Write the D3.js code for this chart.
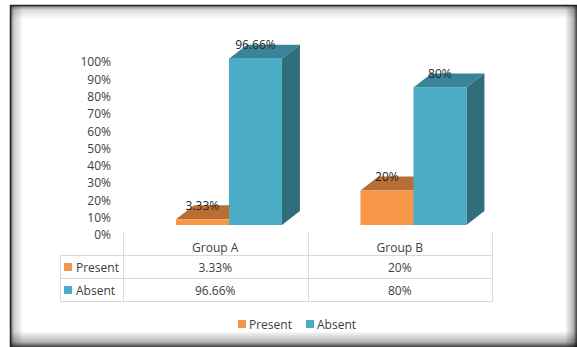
<!DOCTYPE html>
<html>
<head>
<meta charset="utf-8">
<script src="https://cdn.jsdelivr.net/npm/d3@7/dist/d3.min.js"></script>
<style>
  html, body { margin: 0; padding: 0; background: #fff; }
  svg { display: block; font-family: "Open Sans", "Noto Sans", sans-serif; }
</style>
</head>
<body>
<svg id="chart" width="577" height="347"></svg>
<script>
// Chart data
const categories = ["Group A", "Group B"];
const seriesNames = ["Present", "Absent"];
const presentValues = [3.33, 20];
const absentValues = [96.66, 80];
const valueLabels = [["3.33%", "20%"], ["96.66%", "80%"]];
const yTicks = [0, 10, 20, 30, 40, 50, 60, 70, 80, 90, 100];

const seriesValues = [presentValues, absentValues];
const colors = {
  Present: { front: "#F79646", top: "#B96F34", side: "#A8612B" },
  Absent:  { front: "#4BACC6", top: "#3A8499", side: "#306E7E" }
};
const textColor = "#404040";
const gridColor = "#D9D9D9";

const svg = d3.select("#chart");
const W = 577, H = 347;

// Frame with soft inner shadow
const defs = svg.append("defs");
function grad(id, x1, y1, x2, y2, stops) {
  const g = defs.append("linearGradient").attr("id", id)
    .attr("x1", x1).attr("y1", y1).attr("x2", x2).attr("y2", y2);
  stops.forEach(s => g.append("stop").attr("offset", s[0]).attr("stop-color", s[1]).attr("stop-opacity", s[2]));
}
grad("gTop", 0, 0, 0, 1, [[0, "#000", 0.55], [0.35, "#000", 0.15], [1, "#000", 0]]);
grad("gLeft", 0, 0, 1, 0, [[0, "#000", 0.65], [0.3, "#000", 0.2], [1, "#000", 0]]);
grad("gRight", 1, 0, 0, 0, [[0, "#000", 0.75], [0.3, "#000", 0.3], [1, "#000", 0]]);
grad("gBottom", 0, 1, 0, 0, [[0, "#000", 0.75], [0.3, "#000", 0.3], [1, "#000", 0]]);

const fx0 = 10, fy0 = 5;
svg.append("rect").attr("x", fx0).attr("y", fy0).attr("width", W - fx0).attr("height", H - fy0).attr("fill", "#fff");
svg.append("rect").attr("x", fx0).attr("y", fy0).attr("width", W - fx0).attr("height", 14).attr("fill", "url(#gTop)");
svg.append("rect").attr("x", fx0).attr("y", fy0).attr("width", 13).attr("height", H - fy0).attr("fill", "url(#gLeft)");
svg.append("rect").attr("x", W - 12).attr("y", fy0).attr("width", 12).attr("height", H - fy0).attr("fill", "url(#gRight)");
svg.append("rect").attr("x", fx0).attr("y", H - 16).attr("width", W - fx0).attr("height", 16).attr("fill", "url(#gBottom)");
svg.append("line").attr("x1", fx0).attr("x2", W).attr("y1", fy0 + 0.5).attr("y2", fy0 + 0.5).attr("stroke", "#222").attr("stroke-width", 1.5);
svg.append("line").attr("x1", fx0 + 0.5).attr("x2", fx0 + 0.5).attr("y1", fy0).attr("y2", H).attr("stroke", "#222").attr("stroke-width", 1.5);

// Scales
const tableLeft = 123, tableRight = 492;
const x0 = d3.scaleBand().domain(categories).range([tableLeft, tableRight]).padding(0);
const x1 = d3.scaleBand().domain(seriesNames).range([x0.bandwidth() * 0.287, x0.bandwidth() * 0.287 + 106]).padding(0);
const y = d3.scaleLinear().domain([0, 100]).range([225, 53]);
const yAxisScale = d3.scaleLinear().domain([0, 100]).range([235, 62]);
const depthX = 18, depthY = 14;

// Value axis labels
const yAxis = d3.axisLeft(yAxisScale).tickValues(yTicks).tickFormat(d => d + "%").tickSize(0).tickPadding(0);
const axisG = svg.append("g").attr("transform", "translate(111,0)").call(yAxis);
axisG.select(".domain").remove();
axisG.selectAll("text").attr("fill", textColor).style("font-size", "12px").style("font-family", "'Open Sans', sans-serif");

// 3D columns
const bars = svg.append("g");
categories.forEach((cat, ci) => {
  seriesNames.forEach((s, si) => {
    const v = seriesValues[si][ci];
    const xl = x0(cat) + x1(s);
    const xr = xl + x1.bandwidth();
    const yt = y(v), yb = y(0);
    const c = colors[s];
    // top face
    bars.append("path")
      .attr("d", `M${xl},${yt}L${xl + depthX},${yt - depthY}L${xr + depthX},${yt - depthY}L${xr},${yt}Z`)
      .attr("fill", c.top);
    // side face
    bars.append("path")
      .attr("d", `M${xr},${yt}L${xr + depthX},${yt - depthY}L${xr + depthX},${yb - depthY}L${xr},${yb}Z`)
      .attr("fill", c.side);
    // front face
    bars.append("rect").attr("x", xl).attr("y", yt).attr("width", xr - xl).attr("height", yb - yt).attr("fill", c.front);
  });
});

// Data labels
categories.forEach((cat, ci) => {
  seriesNames.forEach((s, si) => {
    const v = seriesValues[si][ci];
    const xc = x0(cat) + x1(s) + x1.bandwidth() / 2;
    svg.append("text")
      .attr("x", xc).attr("y", y(v) - depthY)
      .attr("text-anchor", "middle").attr("dominant-baseline", "central")
      .attr("fill", "#262626").style("font-size", "12px")
      .text(valueLabels[si][ci]);
  });
});

// Data table
const tbl = svg.append("g").attr("stroke", gridColor).attr("stroke-width", 1);
const rowY = [233, 255.5, 278.5, 301.5];
const tableOuterLeft = 60.5;
tbl.append("line").attr("x1", tableOuterLeft).attr("x2", tableRight + 0.5).attr("y1", rowY[1]).attr("y2", rowY[1]);
tbl.append("line").attr("x1", tableOuterLeft).attr("x2", tableRight + 0.5).attr("y1", rowY[2]).attr("y2", rowY[2]);
tbl.append("line").attr("x1", tableOuterLeft).attr("x2", tableRight + 0.5).attr("y1", rowY[3]).attr("y2", rowY[3]);
tbl.append("line").attr("x1", tableOuterLeft).attr("x2", tableOuterLeft).attr("y1", rowY[1]).attr("y2", rowY[3]);
[tableLeft, x0("Group B"), tableRight].forEach(xv => {
  tbl.append("line").attr("x1", Math.round(xv) + 0.5).attr("x2", Math.round(xv) + 0.5).attr("y1", rowY[0]).attr("y2", rowY[3]);
});

categories.forEach((cat, ci) => {
  const xc = x0(cat) + x0.bandwidth() / 2;
  svg.append("text").attr("x", xc).attr("y", (rowY[0] + rowY[1]) / 2 + 3)
    .attr("text-anchor", "middle").attr("dominant-baseline", "central")
    .attr("fill", textColor).style("font-size", "12px").text(cat);
  seriesNames.forEach((s, si) => {
    svg.append("text").attr("x", xc).attr("y", (rowY[si + 1] + rowY[si + 2]) / 2)
      .attr("text-anchor", "middle").attr("dominant-baseline", "central")
      .attr("fill", textColor).style("font-size", "12px").text(valueLabels[si][ci]);
  });
});
seriesNames.forEach((s, si) => {
  const cy = (rowY[si + 1] + rowY[si + 2]) / 2;
  svg.append("rect").attr("x", 64).attr("y", cy - 4).attr("width", 8).attr("height", 8).attr("fill", colors[s].front);
  svg.append("text").attr("x", 76).attr("y", cy)
    .attr("dominant-baseline", "central").attr("fill", textColor).style("font-size", "12px").text(s);
});

// Legend
const legendX = { Present: 238, Absent: 306 };
seriesNames.forEach(s => {
  svg.append("rect").attr("x", legendX[s]).attr("y", 320).attr("width", 8).attr("height", 8).attr("fill", colors[s].front);
  svg.append("text").attr("x", legendX[s] + 11).attr("y", 324)
    .attr("dominant-baseline", "central").attr("fill", textColor).style("font-size", "12px").text(s);
});
</script>
</body>
</html>
